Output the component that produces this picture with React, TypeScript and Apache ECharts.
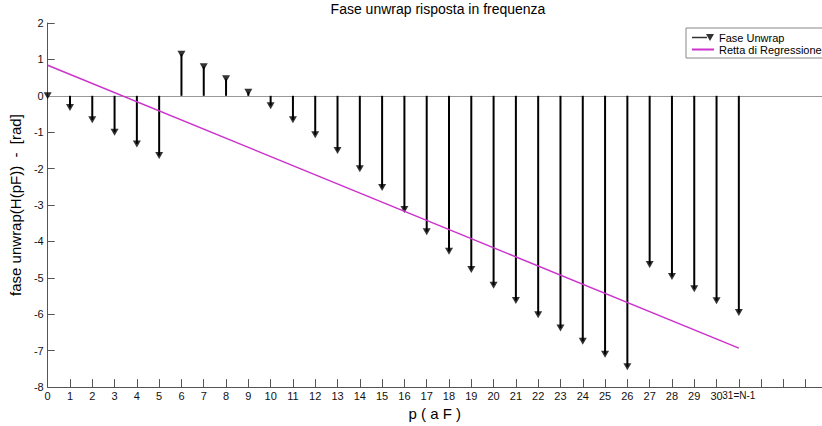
import React, { useEffect, useRef } from "react";
import * as echarts from "echarts";

// Sample index p (0 .. N-1, N = 32)
const indices: number[] = [
  0, 1, 2, 3, 4, 5, 6, 7, 8, 9, 10, 11, 12, 13, 14, 15,
  16, 17, 18, 19, 20, 21, 22, 23, 24, 25, 26, 27, 28, 29, 30, 31,
];

// Unwrapped phase of H(pF), in radians
const phase: number[] = [
  0.0, -0.32, -0.66, -1.0, -1.32, -1.64, 1.14, 0.8, 0.47, 0.1, -0.27, -0.66,
  -1.07, -1.5, -2.0, -2.52, -3.12, -3.73, -4.27, -4.77, -5.2, -5.62, -6.01,
  -6.38, -6.74, -7.1, -7.44, -4.63, -4.96, -5.3, -5.63, -5.95,
];

// Regression line end points [p, phase]
const regressionX: number[] = [0, 31];
const regressionY: number[] = [0.84, -6.93];

const FONT = "Arial, 'Liberation Sans', Helvetica, sans-serif";
const AXIS_COLOR = "#555555";

export default function App() {
  const ref = useRef<HTMLDivElement>(null);

  useEffect(() => {
    if (!ref.current) return;
    const chart = echarts.init(ref.current, null, { renderer: "svg" });

    const points = indices.map((p, i) => [p, phase[i]]);
    const regression = regressionX.map((x, i) => [x, regressionY[i]]);

    chart.setOption({
      animation: false,
      backgroundColor: "#ffffff",
      title: {
        text: "Fase unwrap risposta in frequenza",
        left: 433,
        top: -3,
        textAlign: "center",
        textStyle: { fontFamily: FONT, fontSize: 14, fontWeight: "normal", color: "#000" },
      },
      legend: {
        orient: "vertical",
        left: 686,
        top: 28,
        padding: [4, 5, 3, 5],
        itemGap: 1,
        itemWidth: 22,
        itemHeight: 8,
        backgroundColor: "#ffffff",
        borderColor: "#888888",
        borderWidth: 1,
        borderRadius: 0,
        textStyle: { fontFamily: FONT, fontSize: 11, color: "#000" },
        data: [
          {
            name: "Fase Unwrap",
            icon: "path://M0,3.3L15,3.3L15,4.7L0,4.7Z M14,0.5L22,0.5L18,7.5Z",
          },
          { name: "Retta di Regressione", itemStyle: { opacity: 0 } },
        ],
      },
      grid: { left: 46, top: 23, right: 0, bottom: 38, containLabel: false },
      xAxis: {
        type: "value",
        min: 0,
        max: 34.73,
        interval: 1,
        name: "p ( a F )",
        nameLocation: "middle",
        nameGap: 18,
        nameTextStyle: { fontFamily: FONT, fontSize: 15, color: "#000" },
        axisLine: { onZero: false, lineStyle: { color: AXIS_COLOR, width: 1 } },
        axisTick: { inside: true, length: 8, lineStyle: { color: AXIS_COLOR } },
        splitLine: { show: false },
        axisLabel: {
          fontFamily: FONT,
          fontSize: 11,
          color: "#111",
          margin: 3,
          showMinLabel: true,
          showMaxLabel: false,
          formatter: (v: number) =>
            v === 31 ? "{last|31=N-1}" : v < 31 ? String(v) : "",
          rich: {
            last: { fontFamily: FONT, fontSize: 10, color: "#111" },
          },
        },
      },
      yAxis: {
        type: "value",
        min: -8,
        max: 2,
        interval: 1,
        name: "fase unwrap(H(pF))  -  [rad]",
        nameLocation: "middle",
        nameGap: 22,
        nameTextStyle: { fontFamily: FONT, fontSize: 15, color: "#000" },
        axisLine: { lineStyle: { color: AXIS_COLOR, width: 1 } },
        axisTick: { inside: true, length: 7, lineStyle: { color: AXIS_COLOR } },
        splitLine: { show: false },
        axisLabel: { fontFamily: FONT, fontSize: 11, color: "#111", margin: 4 },
      },
      series: [
        {
          // stems, plus the zero baseline
          name: "stem",
          type: "bar",
          data: points,
          barWidth: 2,
          itemStyle: { color: "#000000" },
          z: 3,
          markLine: {
            silent: true,
            symbol: "none",
            label: { show: false },
            lineStyle: { color: "#999999", width: 1.2, type: "solid" },
            data: [{ yAxis: 0 }],
            z: 2,
          },
        },
        {
          name: "Fase Unwrap",
          type: "scatter",
          data: points,
          symbol: "triangle",
          symbolRotate: 180,
          symbolSize: [8, 7],
          itemStyle: { color: "#000000" },
          z: 4,
        },
        {
          name: "Retta di Regressione",
          type: "line",
          data: regression,
          showSymbol: false,
          symbol: "none",
          lineStyle: { color: "#cc33cc", width: 1.5 },
          itemStyle: { color: "#cc33cc" },
          z: 5,
        },
      ],
    });

    return () => chart.dispose();
  }, []);

  return (
    <div
      ref={ref}
      style={{ position: "absolute", left: 0, top: 0, width: 822, height: 426 }}
    />
  );
}
